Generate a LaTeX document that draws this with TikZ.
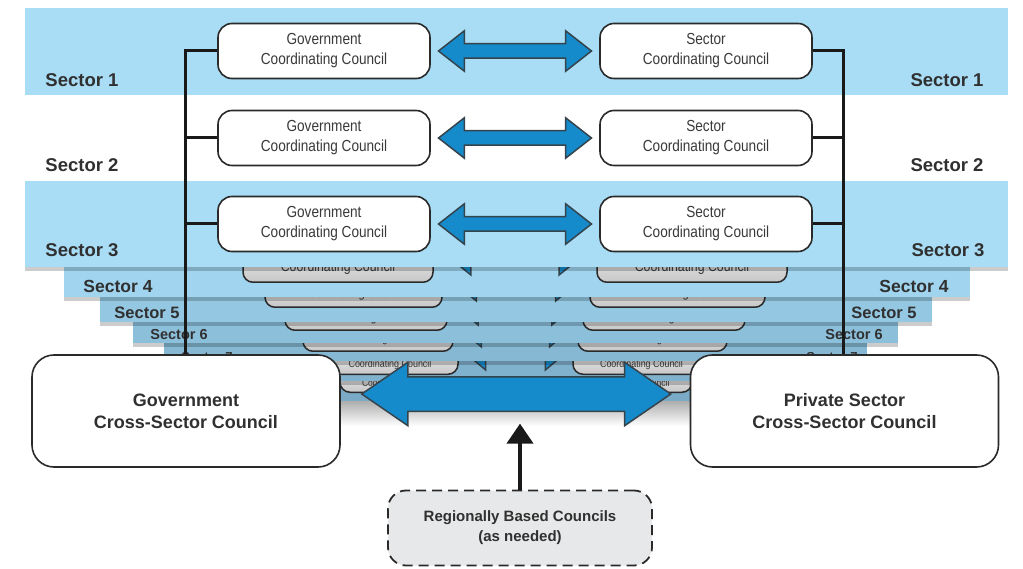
\documentclass[tikz,border=0pt]{standalone}
\usepackage{fontspec}
\setmainfont{Liberation Sans}
\newfontfamily\narrowf[FakeStretch=0.85]{Liberation Sans}
\usetikzlibrary{shapes.arrows,shadows,arrows.meta,calc}
\definecolor{bandA}{HTML}{A8DDF5}
\definecolor{bandB}{HTML}{A1D5EF}
\definecolor{bandC}{HTML}{94C8E2}
\definecolor{bandD}{HTML}{8CBFDA}
\definecolor{bandE}{HTML}{86B8D3}
\definecolor{bandF}{HTML}{80B1CD}
\definecolor{bandG}{HTML}{7AAAC6}
\definecolor{edge}{HTML}{2A2A2A}
\definecolor{ctext}{HTML}{3A3A3A}
\definecolor{ltext}{HTML}{303030}
\definecolor{arrowblue}{HTML}{168BCB}
\definecolor{arrowedge}{HTML}{35434C}
\definecolor{regfill}{HTML}{E7E8E9}
\tikzset{
  bandshadow/.style={drop shadow={shadow xshift=0pt,shadow yshift=-4pt,opacity=0.2,fill=black}},
  cc/.style={draw=edge,line width=1.6pt,fill=white,rounded corners=14pt,
    minimum width=212pt,minimum height=55pt,align=center,text=ctext,inner sep=0pt,
    font=\narrowf\fontsize{16}{20}\selectfont},
  low/.style={draw=edge,line width=1.5pt,top color=white,bottom color=black!22,
    rounded corners=10pt,inner sep=0pt,anchor=south},
  lowtxt/.style={text=ctext,inner sep=0pt},
  barrow/.style={double arrow,draw=arrowedge,line width=1.5pt,fill=arrowblue,
    inner xsep=0pt,double arrow tip angle=76},
  bigbox/.style={draw=edge,line width=1.6pt,fill=white,rounded corners=22pt,
    minimum width=308pt,minimum height=112pt,align=center,text=ltext,
    font=\bfseries\fontsize{18}{22}\selectfont},
  lbl/.style={text=ltext,inner sep=0pt},
  tie/.style={line width=3pt,draw=black!90},
}
\begin{document}
\begin{tikzpicture}[x=1pt,y=-1pt]
\useasboundingbox (0,0) rectangle (1023,569);
% ---------- sector 9
\fill[bandG,bandshadow] (225,240) rectangle (805,401);
\node[low,minimum width=123pt,minimum height=32pt] (g9) at (401.5,393) {};
\node[low,minimum width=124pt,minimum height=32pt] (s9) at (630,393) {};
\node[lowtxt,font=\narrowf\fontsize{10}{10}\selectfont] (g9t) at ($(g9.south)+(0,-9)$) {Coordinating Council};
\node[lowtxt,font=\narrowf\fontsize{10}{10}\selectfont] (s9t) at ($(s9.south)+(0,-9)$) {Coordinating Council};
\node[barrow,minimum height=94pt,inner ysep=5pt,double arrow head extend=10pt,double arrow tip angle=80] (a9) at ($(g9.east)!0.5!(s9.west)+(0,-5)$) {};
% ---------- sector 8
\fill[bandF,bandshadow] (195,240) rectangle (835,381);
\node[low,minimum width=136pt,minimum height=34pt] (g8) at (390,375) {};
\node[low,minimum width=137pt,minimum height=34pt] (s8) at (641.5,375) {};
\node[lowtxt,font=\narrowf\fontsize{10.5}{10.5}\selectfont] (g8t) at ($(g8.south)+(0,-10)$) {Coordinating Council};
\node[lowtxt,font=\narrowf\fontsize{10.5}{10.5}\selectfont] (s8t) at ($(s8.south)+(0,-10)$) {Coordinating Council};
\node[barrow,minimum height=102pt,inner ysep=5pt,double arrow head extend=12pt,double arrow tip angle=80] (a8) at ($(g8.east)!0.5!(s8.west)+(0,-5)$) {};
% ---------- sector 7
\fill[bandE,bandshadow] (164,240) rectangle (867,361);
\node[lbl,font=\bfseries\fontsize{13}{13}\selectfont] (l7) at (207,357) {Sector 7};
\node[lbl,font=\bfseries\fontsize{13}{13}\selectfont] (r7) at (832,357) {Sector 7};
\node[low,minimum width=150pt,minimum height=36pt] (g7) at (378,352) {};
\node[low,minimum width=149pt,minimum height=36pt] (s7) at (652.5,352) {};
\node[lowtxt,font=\narrowf\fontsize{11}{11}\selectfont] (g7t) at ($(g7.south)+(0,-12)$) {Coordinating Council};
\node[lowtxt,font=\narrowf\fontsize{11}{11}\selectfont] (s7t) at ($(s7.south)+(0,-12)$) {Coordinating Council};
\node[barrow,minimum height=108pt,inner ysep=5pt,double arrow head extend=11pt,double arrow tip angle=80] (a7) at ($(g7.east)!0.5!(s7.west)+(0,-3)$) {};
% ---------- sector 6
\fill[bandD,bandshadow] (133,240) rectangle (898,343);
\node[lbl,font=\bfseries\fontsize{14.5}{14.5}\selectfont] (l6) at (179,335) {Sector 6};
\node[lbl,font=\bfseries\fontsize{14.5}{14.5}\selectfont] (r6) at (854,335) {Sector 6};
\node[low,minimum width=162pt,minimum height=40pt] (g6) at (366,331) {};
\node[low,minimum width=162pt,minimum height=40pt] (s6) at (664,331) {};
\node[lowtxt,font=\narrowf\fontsize{12}{12}\selectfont] (g6t) at ($(g6.south)+(0,-13)$) {Coordinating Council};
\node[lowtxt,font=\narrowf\fontsize{12}{12}\selectfont] (s6t) at ($(s6.south)+(0,-13)$) {Coordinating Council};
\node[barrow,minimum height=116pt,inner ysep=5pt,double arrow head extend=12pt,double arrow tip angle=80] (a6) at ($(g6.east)!0.5!(s6.west)+(0,-3)$) {};
% ---------- sector 5
\fill[bandC,bandshadow] (100,240) rectangle (932,322);
\node[lbl,font=\bfseries\fontsize{16.5}{16.5}\selectfont] (l5) at (147,313) {Sector 5};
\node[lbl,font=\bfseries\fontsize{16.5}{16.5}\selectfont] (r5) at (884,313) {Sector 5};
\node[low,minimum width=177pt,minimum height=44pt] (g5) at (353.5,308) {};
\node[low,minimum width=175pt,minimum height=44pt] (s5) at (677.5,308) {};
\node[lowtxt,font=\narrowf\fontsize{13}{13}\selectfont] (g5t) at ($(g5.south)+(0,-14)$) {Coordinating Council};
\node[lowtxt,font=\narrowf\fontsize{13}{13}\selectfont] (s5t) at ($(s5.south)+(0,-14)$) {Coordinating Council};
\node[barrow,minimum height=124pt,inner ysep=5.5pt,double arrow head extend=12.5pt,double arrow tip angle=80] (a5) at ($(g5.east)!0.5!(s5.west)+(0,-3)$) {};
% ---------- sector 4
\fill[bandB,bandshadow] (64,240) rectangle (970,297);
\node[lbl,font=\bfseries\fontsize{17.5}{17.5}\selectfont] (l4) at (118,286) {Sector 4};
\node[lbl,font=\bfseries\fontsize{17.5}{17.5}\selectfont] (r4) at (914,286) {Sector 4};
\node[low,minimum width=190pt,minimum height=50pt] (g4) at (338,283) {};
\node[low,minimum width=190pt,minimum height=50pt] (s4) at (692,283) {};
\node[lowtxt,font=\narrowf\fontsize{14.5}{14.5}\selectfont] (g4t) at ($(g4.south)+(0,-15)$) {Coordinating Council};
\node[lowtxt,font=\narrowf\fontsize{14.5}{14.5}\selectfont] (s4t) at ($(s4.south)+(0,-15)$) {Coordinating Council};
\node[barrow,minimum height=137pt,inner ysep=6pt,double arrow head extend=13pt,double arrow tip angle=78] (a4) at ($(g4.east)!0.5!(s4.west)+(0,-2)$) {};
% ---------- sector 3
\fill[bandA,bandshadow] (25,181) rectangle (1008,267);
\node[lbl,font=\bfseries\fontsize{18.5}{18.5}\selectfont] (l3) at (82,250) {Sector 3};
\node[lbl,font=\bfseries\fontsize{18.5}{18.5}\selectfont] (r3) at (948,250) {Sector 3};
\node[cc] (g3) at (324,224) {Government\\Coordinating Council};
\node[cc] (s3) at (706,224) {Sector\\Coordinating Council};
\path (g3.east) -- (s3.west) node[midway,barrow,minimum height=153pt,inner ysep=6.5pt,double arrow head extend=13pt] (a3) {};
% ---------- sector 1
\fill[bandA] (25,8) rectangle (1008,95);
\node[lbl,font=\bfseries\fontsize{18.5}{18.5}\selectfont] (l1) at (82,80) {Sector 1};
\node[lbl,font=\bfseries\fontsize{18.5}{18.5}\selectfont] (r1) at (947,80) {Sector 1};
\node[cc] (g1) at (324,51) {Government\\Coordinating Council};
\node[cc] (s1) at (706,51) {Sector\\Coordinating Council};
\path (g1.east) -- (s1.west) node[midway,barrow,minimum height=153pt,inner ysep=6.5pt,double arrow head extend=13pt] (a1) {};
% ---------- sector 2
\node[lbl,font=\bfseries\fontsize{18.5}{18.5}\selectfont] (l2) at (82,165) {Sector 2};
\node[lbl,font=\bfseries\fontsize{18.5}{18.5}\selectfont] (r2) at (947,165) {Sector 2};
\node[cc] (g2) at (324,138) {Government\\Coordinating Council};
\node[cc] (s2) at (706,138) {Sector\\Coordinating Council};
\path (g2.east) -- (s2.west) node[midway,barrow,minimum height=153pt,inner ysep=6.5pt,double arrow head extend=13pt] (a2) {};
% ---------- shadow under the stack
\fill[top color=black!32,bottom color=white] (300,401) rectangle (730,426);
% ---------- ties
\coordinate (lx) at (185,51);
\coordinate (rx) at (843,51);
\coordinate (lb) at (185,380);
\coordinate (rb0) at (843,380);
\draw[tie] (g1.west) -- (g1.west -| lx) -- (lb);
\draw[tie] (g2.west) -- (g2.west -| lx);
\draw[tie] (g3.west) -- (g3.west -| lx);
\draw[tie] (s1.east) -- (s1.east -| rx) -- (rb0);
\draw[tie] (s2.east) -- (s2.east -| rx);
\draw[tie] (s3.east) -- (s3.east -| rx);
% ---------- big boxes
\node[bigbox] (gx) at (186,411) {Government\\Cross-Sector Council};
\node[bigbox] (px) at (844.5,411) {Private Sector\\Cross-Sector Council};
% ---------- big double arrow
\node[barrow,minimum height=309pt,inner ysep=16.5pt,double arrow head extend=14.5pt,double arrow tip angle=69] (ba) at ($(gx.east)!0.5!(px.west)+(1,-17)$) {};
% ---------- regional councils
\node[draw=edge,dashed,dash pattern=on 10pt off 6pt,line width=1.8pt,fill=regfill,rounded corners=18pt,
  minimum width=264pt,minimum height=75pt,align=center,text=ltext,
  font=\bfseries\fontsize{15}{20}\selectfont] (rb) at (520,528) {Regionally Based Councils\\(as needed)};
\draw[line width=4pt,draw=black!90,-{Triangle[width=26pt,length=20pt]}] (rb.north) -- ++(0,-66) coordinate (rt);
\end{tikzpicture}
\end{document}
